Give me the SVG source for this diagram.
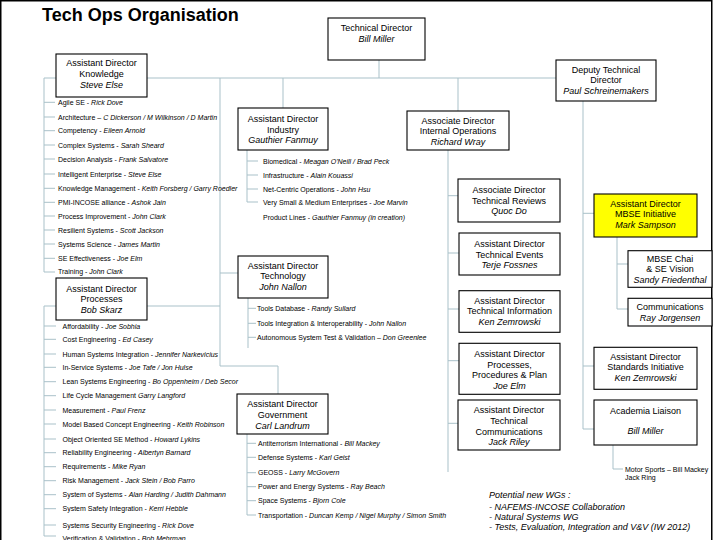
<svg xmlns="http://www.w3.org/2000/svg" width="720" height="540" viewBox="0 0 720 540">
<style>
.box{fill:#fff;stroke:#000;stroke-width:1.1}
.yel{fill:#ffff00}
.bt{font-family:"Liberation Sans",Arial,sans-serif;font-size:9px;text-anchor:middle;fill:#000}
.it{font-style:italic}
.item{font-family:"Liberation Sans",Arial,sans-serif;font-size:7px;fill:#000}
.conn{fill:none;stroke:#a9c1c9;stroke-width:1}
.note{font-family:"Liberation Sans",Arial,sans-serif;font-size:9px;font-style:italic;fill:#000}
</style>
<rect x="0" y="0" width="720" height="540" fill="#fff"/>
<rect x="0.75" y="0.75" width="711" height="560" fill="none" stroke="#000" stroke-width="1.5"/>
<text x="42" y="21" font-family="Liberation Sans,Arial,sans-serif" font-size="18" font-weight="bold">Tech Ops Organisation</text>

<g id="connectors" class="conn">
<path d="M379,60V78M44,78H556M283,78V108M458,78V111"/>
<path d="M220,78V366H278V394M220,273H238M147,306H220"/>
<path d="M44,78V272H55M44,102.3H55M44,117H55M44,130.7H55M44,145H55M44,159H55M44,174H55M44,188.3H55M44,202.3H55M44,216H55M44,230H55M44,244H55M44,258.3H55"/>
<path d="M56,306H44V536H56M44,326H56M44,339.3H56M44,354H56M44,367.3H56M44,381.7H56M44,395.7H56M44,410H56M44,424H56M44,439H56M44,452.7H56M44,466.7H56M44,480.7H56M44,494.7H56M44,508.7H56M44,525H56"/>
<path d="M247,150V202H258M247,161H258M247,175H258M247,189H258"/>
<path d="M248,298V348M248,308.3H256M248,323.3H256M248,337.3H256"/>
<path d="M247,434V515H256M247,443.3H256M247,457.3H256M247,472.7H256M247,486.7H256M247,500.7H256"/>
<path d="M448,150V472M448,195.7H458M448,253H459M448,309H459M448,360.7H459M448,423.3H458"/>
<path d="M583,101V429H594M583,213.3H594M583,366H594"/>
<path d="M617,237V309H628M617,264H628"/>
<path d="M613,445V469H623"/>
</g>

<g id="tech-director"><rect class="box" x="328" y="18" width="97" height="42"/>
<text class="bt" x="376.5" y="30.5">Technical Director</text><text class="bt it" x="376.5" y="42">Bill Miller</text></g>

<g id="ad-knowledge"><rect class="box" x="56" y="54" width="91" height="43"/>
<text class="bt" x="101.5" y="66">Assistant Director</text><text class="bt" x="101.5" y="77">Knowledge</text><text class="bt it" x="101.5" y="88">Steve Else</text></g>

<g id="deputy"><rect class="box" x="556" y="60" width="100" height="41"/>
<text class="bt" x="606" y="72.5">Deputy Technical</text><text class="bt" x="606" y="83">Director</text><text class="bt it" x="606" y="93.5">Paul Schreinemakers</text></g>

<g id="ad-industry"><rect class="box" x="238" y="108" width="90" height="42"/>
<text class="bt" x="283" y="122">Assistant Director</text><text class="bt" x="283" y="132.5">Industry</text><text class="bt it" x="283" y="143">Gauthier Fanmuy</text></g>

<g id="ad-internal-ops"><rect class="box" x="407" y="111" width="102" height="39"/>
<text class="bt" x="458" y="124">Associate Director</text><text class="bt" x="458" y="134.3">Internal Operations</text><text class="bt it" x="458" y="144.5">Richard Wray</text></g>

<g id="ad-tech-reviews"><rect class="box" x="458" y="179" width="102" height="43"/>
<text class="bt" x="509" y="193">Associate Director</text><text class="bt" x="509" y="203.7">Technical Reviews</text><text class="bt it" x="509" y="214">Quoc Do</text></g>

<g id="ad-mbse"><rect class="box yel" x="594" y="194" width="103" height="43"/>
<text class="bt" x="645.5" y="206.5">Assistant Director</text><text class="bt" x="645.5" y="217">MBSE Initiative</text><text class="bt it" x="645.5" y="227.5">Mark Sampson</text></g>

<g id="ad-tech-events"><rect class="box" x="459" y="233" width="101" height="42"/>
<text class="bt" x="509.5" y="247">Assistant Director</text><text class="bt" x="509.5" y="257.7">Technical Events</text><text class="bt it" x="509.5" y="268">Terje Fossnes</text></g>

<g id="mbse-chair"><rect class="box" x="628" y="250.7" width="84" height="36.6"/>
<text class="bt" x="670" y="262.3">MBSE Chai</text><text class="bt" x="670" y="272.3">&amp; SE Vision</text><text class="bt it" x="670" y="282.7">Sandy Friedenthal</text></g>

<g id="ad-technology"><rect class="box" x="238" y="256" width="90" height="42"/>
<text class="bt" x="283" y="269">Assistant Director</text><text class="bt" x="283" y="279">Technology</text><text class="bt it" x="283" y="289.5">John Nallon</text></g>

<g id="ad-processes"><rect class="box" x="56" y="278" width="91" height="42"/>
<text class="bt" x="101.5" y="291.5">Assistant Director</text><text class="bt" x="101.5" y="302">Processes</text><text class="bt it" x="101.5" y="312.5">Bob Skarz</text></g>

<g id="ad-tech-info"><rect class="box" x="459" y="290.7" width="101" height="41.6"/>
<text class="bt" x="509.5" y="303.7">Assistant Director</text><text class="bt" x="509.5" y="314.3">Technical Information</text><text class="bt it" x="509.5" y="324.7">Ken Zemrowski</text></g>

<g id="communications"><rect class="box" x="628" y="298.3" width="84" height="27.7"/>
<text class="bt" x="670" y="310.3">Communications</text><text class="bt it" x="670" y="320.7">Ray Jorgensen</text></g>

<g id="ad-ppp"><rect class="box" x="459" y="343.3" width="101" height="51"/>
<text class="bt" x="509.5" y="357">Assistant Director</text><text class="bt" x="509.5" y="367.7">Processes,</text><text class="bt" x="509.5" y="378.3">Procedures &amp; Plan</text><text class="bt it" x="509.5" y="389">Joe Elm</text></g>

<g id="ad-standards"><rect class="box" x="594" y="347.3" width="103" height="42"/>
<text class="bt" x="645.5" y="359.7">Assistant Director</text><text class="bt" x="645.5" y="370.3">Standards Initiative</text><text class="bt it" x="645.5" y="381">Ken Zemrowski</text></g>

<g id="ad-government"><rect class="box" x="237" y="394" width="91" height="40"/>
<text class="bt" x="282.5" y="407">Assistant Director</text><text class="bt" x="282.5" y="418">Government</text><text class="bt it" x="282.5" y="428.5">Carl Landrum</text></g>

<g id="ad-tech-comms"><rect class="box" x="458" y="400" width="102" height="50"/>
<text class="bt" x="509" y="413">Assistant Director</text><text class="bt" x="509" y="424">Technical</text><text class="bt" x="509" y="434.7">Communications</text><text class="bt it" x="509" y="445">Jack Riley</text></g>

<g id="academia"><rect class="box" x="594" y="400" width="103" height="45"/>
<text class="bt" x="645.5" y="413.7">Academia Liaison</text><text class="bt it" x="645.5" y="434">Bill Miller</text></g>

<g id="knowledge-items" class="item">
<text x="58" y="104.8">Agile SE - <tspan class="it">Rick Dove</tspan></text>
<text x="58" y="119.5">Architecture – <tspan class="it">C Dickerson / M Wilkinson / D Martin</tspan></text>
<text x="58" y="133.2">Competency - <tspan class="it">Eileen Arnold</tspan></text>
<text x="58" y="147.5">Complex Systems - <tspan class="it">Sarah Sheard</tspan></text>
<text x="58" y="161.5">Decision Analysis - <tspan class="it">Frank Salvatore</tspan></text>
<text x="58" y="176.5">Intelligent Enterprise - <tspan class="it">Steve Else</tspan></text>
<text x="58" y="190.8">Knowledge Management - <tspan class="it">Keith Forsberg / Garry Roedler</tspan></text>
<text x="58" y="204.8">PMI-INCOSE alliance - <tspan class="it">Ashok Jain</tspan></text>
<text x="58" y="218.5">Process Improvement - <tspan class="it">John Clark</tspan></text>
<text x="58" y="232.5">Resilient Systems - <tspan class="it">Scott Jackson</tspan></text>
<text x="58" y="246.5">Systems Science - <tspan class="it">James Martin</tspan></text>
<text x="58" y="260.8">SE Effectiveness - <tspan class="it">Joe Elm</tspan></text>
<text x="58" y="274.2">Training - <tspan class="it">John Clark</tspan></text>
</g>

<g id="process-items" class="item">
<text x="62.5" y="328.5">Affordability - <tspan class="it">Joe Sobhia</tspan></text>
<text x="62.5" y="341.8">Cost Engineering - <tspan class="it">Ed Casey</tspan></text>
<text x="62.5" y="356.5">Human Systems Integration - <tspan class="it">Jennifer Narkevicius</tspan></text>
<text x="62.5" y="369.8">In-Service Systems - <tspan class="it">Joe Tafe / Jon Hulse</tspan></text>
<text x="62.5" y="384.2">Lean Systems Engineering - <tspan class="it">Bo Oppenheim / Deb Secor</tspan></text>
<text x="62.5" y="398.2">Life Cycle Management <tspan class="it">Garry Langford</tspan></text>
<text x="62.5" y="412.5">Measurement - <tspan class="it">Paul Frenz</tspan></text>
<text x="62.5" y="426.5">Model Based Concept Engineering - <tspan class="it">Keith Robinson</tspan></text>
<text x="62.5" y="441.5">Object Oriented SE Method - <tspan class="it">Howard Lykins</tspan></text>
<text x="62.5" y="455.2">Reliability Engineering - <tspan class="it">Albertyn Barnard</tspan></text>
<text x="62.5" y="469.2">Requirements - <tspan class="it">Mike Ryan</tspan></text>
<text x="62.5" y="483.2">Risk Management - <tspan class="it">Jack Stein / Bob Parro</tspan></text>
<text x="62.5" y="497.2">System of Systems - <tspan class="it">Alan Harding / Judith Dahmann</tspan></text>
<text x="62.5" y="511.2">System Safety Integration - <tspan class="it">Kerri Hebble</tspan></text>
<text x="62.5" y="527.5">Systems Security Engineering - <tspan class="it">Rick Dove</tspan></text>
<text x="62.5" y="540.5">Verification &amp; Validation - <tspan class="it">Bob Mehrman</tspan></text>
</g>

<g id="industry-items" class="item">
<text x="263" y="163.5">Biomedical - <tspan class="it">Meagan O'Neill / Brad Peck</tspan></text>
<text x="263" y="177.5">Infrastructure - <tspan class="it">Alain Kouassi</tspan></text>
<text x="263" y="191.5">Net-Centric Operations - <tspan class="it">John Hsu</tspan></text>
<text x="263" y="204.5">Very Small &amp; Medium Enterprises - <tspan class="it">Joe Marvin</tspan></text>
<text x="263" y="219.5">Product Lines - <tspan class="it">Gauthier Fanmuy (in creation)</tspan></text>
</g>

<g id="technology-items" class="item">
<text x="257" y="310.8">Tools Database - <tspan class="it">Randy Sullard</tspan></text>
<text x="257" y="325.8">Tools Integration &amp; Interoperability - <tspan class="it">John Nallon</tspan></text>
<text x="257" y="339.8">Autonomous System Test &amp; Validation – <tspan class="it">Don Greenlee</tspan></text>
</g>

<g id="government-items" class="item">
<text x="258" y="445.8">Antiterrorism International - <tspan class="it">Bill Mackey</tspan></text>
<text x="258" y="459.8">Defense Systems - <tspan class="it">Karl Geist</tspan></text>
<text x="258" y="475.2">GEOSS - <tspan class="it">Larry McGovern</tspan></text>
<text x="258" y="489.2">Power and Energy Systems - <tspan class="it">Ray Beach</tspan></text>
<text x="258" y="503.2">Space Systems - <tspan class="it">Bjorn Cole</tspan></text>
<text x="258" y="517.5">Transportation - <tspan class="it">Duncan Kemp / Nigel Murphy / Simon Smith</tspan></text>
</g>

<g id="academia-items" class="item">
<text x="625" y="471.5">Motor Sports – Bill Mackey</text>
<text x="625" y="480">Jack Ring</text>
</g>

<g id="potential-wgs" class="note">
<text x="489" y="497.5">Potential new WGs :</text>
<text x="489" y="510">- NAFEMS-INCOSE Collaboration</text>
<text x="489" y="519.5">- Natural Systems WG</text>
<text x="489" y="530">- Tests, Evaluation, Integration and V&amp;V (IW 2012)</text>
</g>
</svg>
